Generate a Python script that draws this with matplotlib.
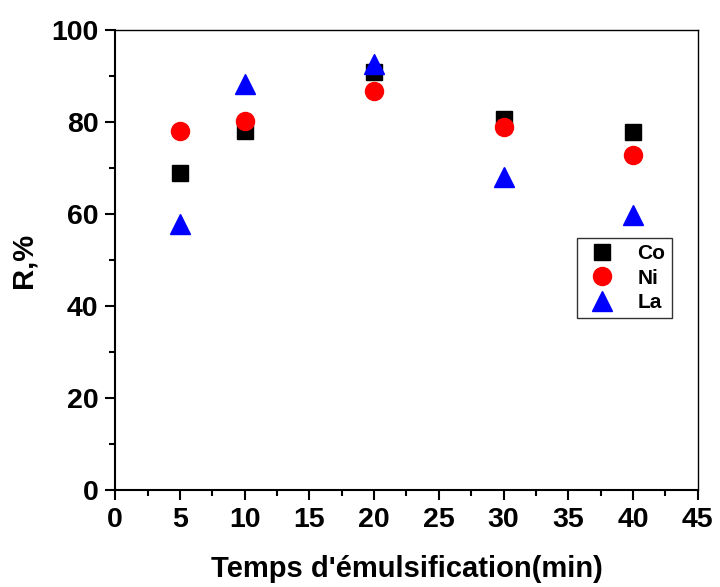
import matplotlib.pyplot as plt
from matplotlib.ticker import MultipleLocator

plt.rcParams['font.family'] = ['Liberation Sans', 'DejaVu Sans']
plt.rcParams['font.weight'] = 'bold'

# temps d'émulsification (min) et rendement R (%)
temps = [5, 10, 20, 30, 40]
co = [69.0, 78.0, 90.9, 80.7, 77.8]
ni = [78.0, 80.2, 86.7, 78.9, 72.8]
la = [57.8, 88.3, 92.6, 68.0, 59.8]

fig = plt.figure(figsize=(7.2, 5.87), dpi=100)
ax = fig.add_axes([0.16, 0.165, 0.809, 0.784])

ax.plot(temps, co, 's', color='black', markersize=12, linestyle='none', label='Co')
ax.plot(temps, ni, 'o', color='red', markersize=13, linestyle='none', label='Ni')
ax.plot(temps, la, '^', color='blue', markersize=14, linestyle='none', label='La')

ax.set_xlim(0, 45)
ax.set_ylim(0, 100)
ax.xaxis.set_major_locator(MultipleLocator(5))
ax.xaxis.set_minor_locator(MultipleLocator(2.5))
ax.yaxis.set_major_locator(MultipleLocator(20))
ax.yaxis.set_minor_locator(MultipleLocator(10))
ax.tick_params(which='major', direction='out', length=7, width=1.5, labelsize=20.5, pad=5)
ax.tick_params(which='minor', direction='out', length=4, width=1.5)
for lab in ax.get_xticklabels() + ax.get_yticklabels():
    lab.set_fontweight('bold')
for side in ['left', 'bottom']:
    ax.spines[side].set_linewidth(1.5)
for side in ['top', 'right']:
    ax.spines[side].set_linewidth(1.0)

ax.set_xlabel("Temps d'émulsification(min)", fontsize=21, fontweight='bold', labelpad=16)
ax.set_ylabel('R,%', fontsize=21, fontweight='bold', labelpad=10)

leg = ax.legend(loc='upper left', bbox_to_anchor=(0.775, 0.57), fontsize=15,
                frameon=True, fancybox=False, edgecolor='black', borderpad=0.3,
                handletextpad=0.8, labelspacing=0.25, handlelength=1.8, markerscale=1.0)
leg.get_frame().set_linewidth(1.0)

plt.savefig('out.png', dpi=100)
